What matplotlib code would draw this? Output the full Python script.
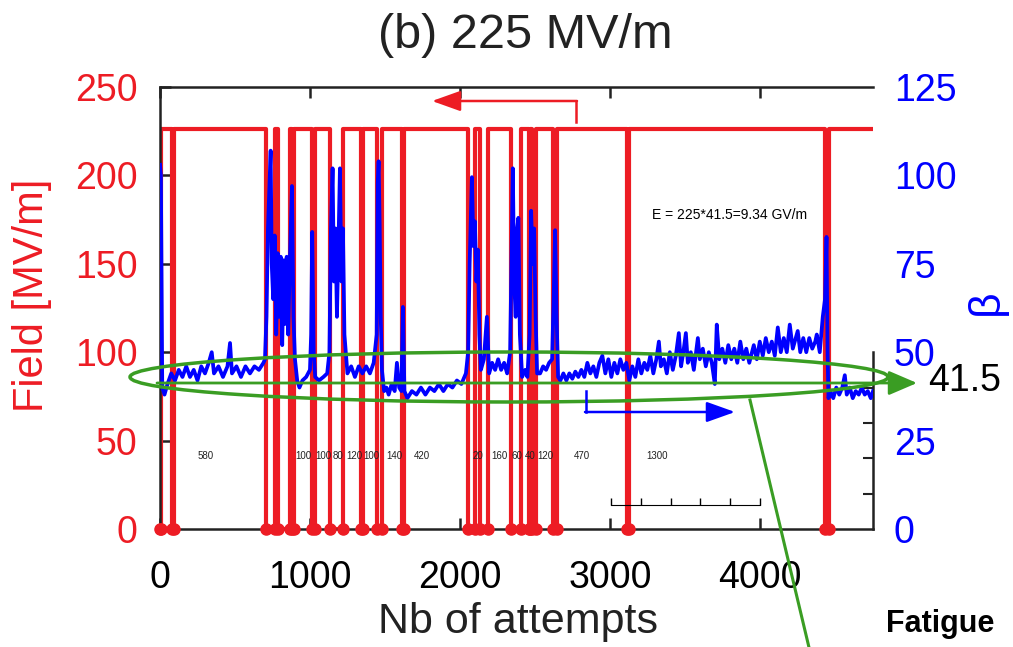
import numpy as np
import matplotlib
matplotlib.use('Agg')
import matplotlib.pyplot as plt
from matplotlib.patches import Ellipse

plt.rcParams['font.family'] = ['Liberation Sans', 'DejaVu Sans']

W, H = 1013, 647
RED = '#ed1c24'
BLUE = '#0000ff'
GREEN = '#3a9d23'

# field level and breakdown intervals (field = 0 between start/end)
field_on = 226
bd_start = [0, 80, 705, 785, 880, 1013, 1133, 1340, 1447, 1613,
            2053, 2133, 2340, 2460, 2480, 2620, 3113, 4438]
bd_end = [8, 95, 765, 868, 895, 1035, 1220, 1355, 1480, 1625,
          2100, 2185, 2410, 2470, 2510, 2647, 3127, 4462]
n_max = 4755

# attempts between breakdowns, written along the bottom
gap_labels = ['580', '100', '100', '80', '120', '100', '140', '420',
              '20', '160', '60', '40', '120', '470', '1300']
gap_x = [307, 953, 1087, 1187, 1293, 1407, 1560, 1747,
         2120, 2267, 2380, 2467, 2567, 2813, 3313]

# field enhancement factor beta
beta_x = [0, 6, 15, 30, 50, 75, 100, 125, 150, 175, 200, 225, 250, 275, 300, 325, 345, 360, 390, 420,
          450, 467, 480, 510, 540, 570, 600, 630, 660, 690,
          700, 710, 720, 738, 745, 755, 765, 775, 785, 795, 805, 815, 825, 835, 845, 855, 865, 880, 890, 900,
          915, 930, 950, 975,
          1000, 1008, 1015, 1025, 1035, 1060, 1090, 1115,
          1130, 1140, 1151, 1160, 1170, 1180, 1190, 1200, 1210, 1220, 1230,
          1250, 1275, 1300, 1325, 1350, 1375, 1400, 1425,
          1445, 1452, 1458, 1465, 1472, 1480,
          1495, 1510, 1525, 1545, 1565, 1580, 1595, 1610, 1620, 1630,
          1650, 1680, 1710, 1740, 1770, 1800, 1830, 1860, 1890, 1920, 1950, 1980, 2010, 2040,
          2055, 2065, 2080, 2090, 2100, 2110, 2120, 2130,
          2140, 2160, 2180, 2195, 2215, 2235, 2255, 2275, 2295, 2315,
          2335, 2345, 2353, 2362, 2372, 2382, 2390, 2400,
          2415, 2435, 2450,
          2465, 2475, 2485, 2495, 2505, 2515,
          2535, 2555, 2575, 2595, 2615,
          2625, 2635, 2645, 2655,
          2670, 2690, 2710, 2730, 2750, 2770, 2790, 2810, 2830, 2850, 2870, 2890, 2910, 2930, 2950, 2970,
          2990, 3010, 3030, 3050, 3070, 3090, 3110, 3130,
          3150, 3170, 3190, 3210, 3230, 3250, 3270, 3290, 3310, 3327, 3340,
          3360, 3380, 3400, 3420, 3440, 3460, 3475, 3490, 3507, 3520, 3540, 3560, 3587, 3600, 3620, 3640,
          3660, 3680, 3700, 3713, 3730, 3750, 3770, 3790, 3810, 3830, 3850, 3870, 3890, 3910, 3930,
          3960, 3980, 4000, 4020, 4040, 4060, 4080, 4100, 4120, 4140, 4160, 4180, 4200, 4220, 4240, 4253,
          4270, 4290, 4310, 4330, 4350, 4370, 4380, 4400, 4420,
          4435, 4445, 4452, 4458,
          4470, 4490, 4510, 4530, 4550, 4567, 4580, 4600, 4620, 4640, 4660, 4680, 4700, 4720, 4740, 4755]
beta_y = [103, 100, 40, 38, 41, 44, 42, 45, 43, 46, 43, 45, 42, 46, 44, 47, 50, 44, 46, 43,
          46, 52.6, 44, 46, 43, 46, 44, 46, 45, 47,
          48, 60, 85, 107, 75, 65, 83, 55, 78, 60, 77, 52, 76, 58, 77, 55, 74, 97, 60, 48,
          42, 40, 42, 43,
          45, 55, 84, 50, 43, 42, 43, 44,
          50, 85, 102, 70, 85, 60, 80, 102, 70, 85, 55,
          44, 46, 43, 46, 44, 46, 44, 47,
          55, 98, 104, 86, 60, 45,
          39, 40, 38, 41, 39, 47, 40, 39, 62.8, 39,
          37, 39, 38, 40, 38, 40, 39, 41, 39, 41, 40, 42, 41, 44,
          50, 75, 99.5, 80, 87, 70, 79, 55,
          45, 48, 60, 44, 47, 45, 48, 45, 47, 44,
          50, 80, 102, 70, 60, 85, 88, 55,
          43, 45, 43,
          55, 90, 75, 85, 60, 44,
          44, 46, 45, 47, 48,
          65, 84.5, 60, 43,
          42, 44, 42, 44, 42.5, 44.5, 43, 45, 43, 47, 44, 46, 43, 47, 49, 44,
          48, 43, 47, 44, 48, 45, 47, 42,
          46, 43, 48, 44, 47, 45, 49, 44, 48, 53, 46,
          48, 44, 50, 45, 49, 55.4, 46, 50, 55.4, 47, 50, 45, 54, 48, 51, 46,
          50, 47, 41, 57.8, 48, 51, 47, 52, 48, 51, 47, 53, 48, 51, 47,
          52, 48, 53, 49, 54, 50, 53, 49, 57, 50, 54, 50, 57.8, 51, 54, 56,
          50, 54, 50, 54, 51, 53, 55, 50, 60,
          65, 82.6, 50, 37,
          39, 37, 40, 38, 40, 43.5, 38, 40, 37, 39, 38, 40, 38, 39, 37, 39]

# step trace for the field
fx, fy = [], []
for s, e in zip(bd_start, bd_end):
    fx += [s, s, e, e]
    fy += [field_on, 0, 0, field_on]
fx.append(n_max)
fy.append(field_on)


def px(x, y):
    return x / W, 1 - y / H


fig = plt.figure(figsize=(W / 100, H / 100), dpi=100)
ax = fig.add_axes([160 / W, 1 - 529 / H, 713 / W, 442 / H])

ax.plot(fx, fy, color=RED, lw=3, zorder=2)
ax.plot(bd_start + bd_end, np.zeros(2 * len(bd_start)), 'o', color=RED, ms=8,
        clip_on=False, zorder=3)
for lab, gx in zip(gap_labels, gap_x):
    ax.text(gx, 41.5, lab, fontsize=7, ha='center', va='center', color='#222222')

ax.set_xlim(0, n_max)
ax.set_ylim(0, 250)
ax.set_xticks([0, 1000, 2000, 3000, 4000])
ax.set_yticks(range(0, 251, 50))
ax.tick_params(direction='in', length=8, width=1.8, top=True, right=False,
               labelsize=27, color='#222222')
ax.tick_params(axis='y', labelcolor=RED, pad=16)
ax.tick_params(axis='x', pad=22)
for s in ['left', 'top', 'bottom']:
    ax.spines[s].set_linewidth(1.8)
    ax.spines[s].set_color('#222222')
ax.spines['right'].set_visible(False)

ax2 = ax.twinx()
ax2.plot(beta_x, beta_y, color=BLUE, lw=2.7, zorder=3)
ax2.set_ylim(0, 125)
ax2.set_yticks(range(0, 126, 25))
ax2.set_yticks([10, 20, 30, 40, 50], minor=True)
ax2.tick_params(axis='y', which='major', length=0, labelsize=27, labelcolor=BLUE, pad=15)
ax2.tick_params(axis='y', which='minor', direction='in', length=7, width=1.5, color='#222222')
ax2.spines['right'].set_bounds(0, 50)
ax2.spines['right'].set_linewidth(1.8)
ax2.spines['right'].set_color('#222222')
for s in ['left', 'top', 'bottom']:
    ax2.spines[s].set_visible(False)

# small scale bar left over in the original figure
ins = fig.add_axes([611 / W, 1 - 505 / H, 149 / W, 1 / H])
ins.set_xlim(0, 5)
ins.set_xticks(range(6))
ins.set_yticks([])
ins.tick_params(direction='in', length=5, width=1, labelbottom=False)
for s in ['left', 'top', 'right']:
    ins.spines[s].set_visible(False)
ins.patch.set_alpha(0)

# texts
fig.text(*px(525, 36), '(b) 225 MV/m', ha='center', va='center', fontsize=35, color='#222222')
fig.text(*px(32, 295), 'Field [MV/m]', rotation=90, ha='center', va='center',
         fontsize=30, color=RED)
fig.text(*px(986, 302), 'β', rotation=90, ha='center', va='center', fontsize=32, color=BLUE)
fig.text(*px(518, 622), 'Nb of attempts', ha='center', va='center', fontsize=31, color='#222222')
fig.text(*px(730, 215), 'E = 225*41.5=9.34 GV/m', ha='center', va='center', fontsize=10)
fig.text(*px(940, 624), 'Fatigue', ha='center', va='center', fontsize=22, weight='bold')
fig.text(*px(928, 381), '41.5', ha='left', va='center', fontsize=27)

# overlay annotations in pixel space
ov = fig.add_axes([0, 0, 1, 1], zorder=10)
ov.set_xlim(0, W)
ov.set_ylim(H, 0)
ov.axis('off')
ov.patch.set_alpha(0)

ov.add_patch(Ellipse((509, 377), 758, 50, fill=False, ec=GREEN, lw=2.5))
ov.annotate('', xy=(917, 383), xytext=(157, 383),
            arrowprops=dict(arrowstyle='-|>,head_length=0.7,head_width=0.3', color=GREEN,
                            lw=2, mutation_scale=25, shrinkA=0, shrinkB=0))
ov.plot([750, 812], [400, 660], color=GREEN, lw=2.2)

ov.plot([576, 576], [122, 101], color=RED, lw=1.8)
ov.annotate('', xy=(432, 101), xytext=(577, 101),
            arrowprops=dict(arrowstyle='-|>,head_length=0.7,head_width=0.25', color=RED,
                            lw=1.8, mutation_scale=25, shrinkA=0, shrinkB=0))
ov.plot([586, 586], [391, 412], color=BLUE, lw=1.8)
ov.annotate('', xy=(735, 412), xytext=(585, 412),
            arrowprops=dict(arrowstyle='-|>,head_length=0.7,head_width=0.25', color=BLUE,
                            lw=1.8, mutation_scale=25, shrinkA=0, shrinkB=0))

fig.savefig('out.png', dpi=100)
